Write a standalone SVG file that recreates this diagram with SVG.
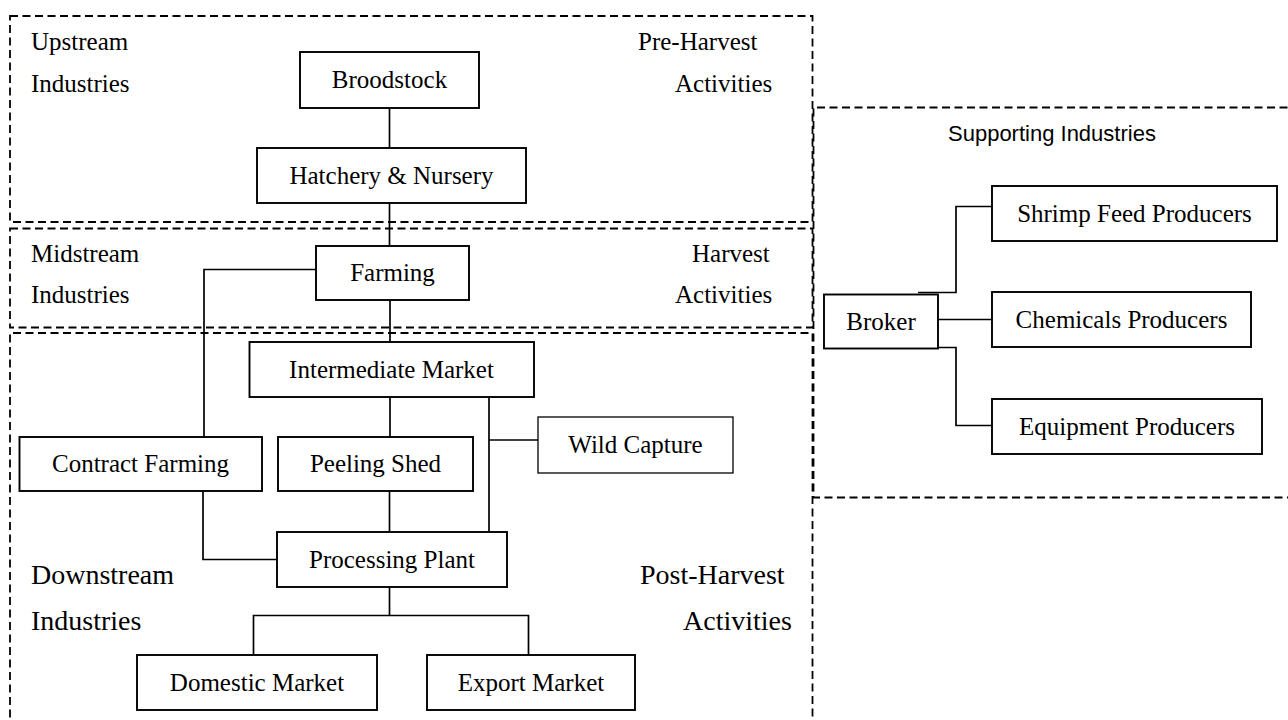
<svg xmlns="http://www.w3.org/2000/svg" width="1288" height="720" viewBox="0 0 1288 720">
<style>
.zone{fill:none;stroke:#000;stroke-width:1.8;stroke-dasharray:8 4.5}
.box{fill:#fff;stroke:#000;stroke-width:1.9}
.thin{fill:#fff;stroke:#000;stroke-width:1.3}
.ln{fill:none;stroke:#000;stroke-width:1.7}
.t{font-family:"Liberation Serif","Times New Roman",serif;font-size:25px;fill:#000}
.c{text-anchor:middle}
.big{font-family:"Liberation Serif","Times New Roman",serif;font-size:28px;fill:#000}
.sans{font-family:"Liberation Sans",Arial,sans-serif;font-size:22px;fill:#000}
</style>
<rect width="1288" height="720" fill="#fff"/>
<g id="zones">
<rect class="zone" x="10" y="16" width="802.5" height="206"/>
<rect class="zone" x="10" y="228.5" width="802.5" height="99"/>
<path class="zone" d="M10,730 V333 H812.5 V730"/>
<path class="zone" d="M1300,107.5 H813.5 V497.5 H1300"/>
</g>
<g id="zone-labels">
<text class="t" x="31" y="50">Upstream</text>
<text class="t" x="31" y="92">Industries</text>
<text class="t" x="638" y="50">Pre-Harvest</text>
<text class="t" x="675" y="92">Activities</text>
<text class="t" x="31" y="262">Midstream</text>
<text class="t" x="31" y="303">Industries</text>
<text class="t" x="692" y="262">Harvest</text>
<text class="t" x="675" y="303">Activities</text>
<text class="big" x="31" y="584">Downstream</text>
<text class="big" x="31" y="630">Industries</text>
<text class="big" x="640" y="584">Post-Harvest</text>
<text class="big" x="683" y="630">Activities</text>
<text class="sans" x="948" y="141">Supporting Industries</text>
</g>
<g id="connectors">
<path class="ln" d="M389.5,108 V148"/>
<path class="ln" d="M389.5,203 V246"/>
<path class="ln" d="M316,269.5 H204 V437"/>
<path class="ln" d="M390,300 V342"/>
<path class="ln" d="M390,397 V437"/>
<path class="ln" d="M489,397 V532"/>
<path class="ln" d="M489,440 H538"/>
<path class="ln" d="M389.5,491 V532"/>
<path class="ln" d="M203,491 V559.5 H277"/>
<path class="ln" d="M389.5,587 V615.5"/>
<path class="ln" d="M253.5,655 V615.5 H528.5 V655"/>
<path class="ln" d="M918,292.5 H956 V206.5 H992"/>
<path class="ln" d="M938,319.5 H992"/>
<path class="ln" d="M918,347.5 H956 V425.5 H992"/>
</g>
<g id="broodstock"><rect class="box" x="300" y="52" width="179" height="56"/><text class="t c" x="389.5" y="88">Broodstock</text></g>
<g id="hatchery"><rect class="box" x="257" y="148" width="269" height="55"/><text class="t c" x="391.5" y="183.5">Hatchery &amp; Nursery</text></g>
<g id="farming"><rect class="box" x="316" y="246" width="153" height="54"/><text class="t c" x="392.5" y="281">Farming</text></g>
<g id="intermediate-market"><rect class="box" x="249.5" y="342" width="284.5" height="55"/><text class="t c" x="391.5" y="377.5">Intermediate Market</text></g>
<g id="contract-farming"><rect class="box" x="19.5" y="437" width="242.5" height="54"/><text class="t c" x="140.5" y="472">Contract Farming</text></g>
<g id="peeling-shed"><rect class="box" x="278" y="437" width="195" height="54"/><text class="t c" x="375.5" y="472">Peeling Shed</text></g>
<g id="wild-capture"><rect class="thin" x="538" y="417" width="195" height="56"/><text class="t c" x="635.5" y="453">Wild Capture</text></g>
<g id="processing-plant"><rect class="box" x="277" y="532" width="230" height="55"/><text class="t c" x="392" y="567.5">Processing Plant</text></g>
<g id="domestic-market"><rect class="box" x="137" y="655" width="240" height="55"/><text class="t c" x="257" y="690.5">Domestic Market</text></g>
<g id="export-market"><rect class="box" x="427" y="655" width="208" height="55"/><text class="t c" x="531" y="690.5">Export Market</text></g>
<g id="broker"><rect class="box" x="824" y="294.5" width="114" height="54"/><text class="t c" x="881" y="329.5">Broker</text></g>
<g id="shrimp-feed"><rect class="box" x="992" y="186" width="285" height="55"/><text class="t c" x="1134.5" y="221.5">Shrimp Feed Producers</text></g>
<g id="chemicals"><rect class="box" x="992" y="292" width="259" height="55"/><text class="t c" x="1121.5" y="327.5">Chemicals Producers</text></g>
<g id="equipment"><rect class="box" x="992" y="399" width="270" height="55"/><text class="t c" x="1127" y="434.5">Equipment Producers</text></g>
</svg>
